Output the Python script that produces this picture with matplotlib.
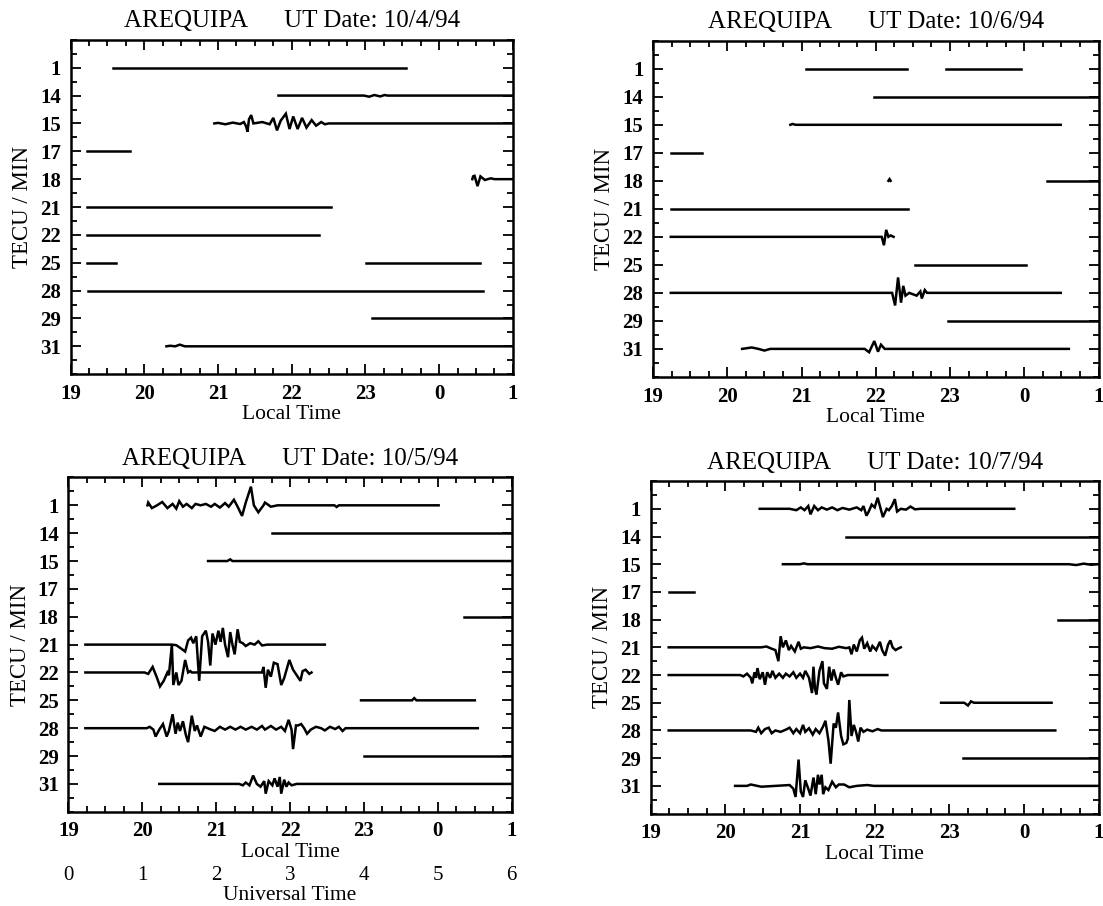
import matplotlib
matplotlib.use('Agg')
import matplotlib.pyplot as plt
from matplotlib.ticker import MultipleLocator

plt.rcParams['font.family'] = ['Liberation Serif', 'DejaVu Serif']

prn_labels = ['1', '14', '15', '17', '18', '21', '22', '25', '28', '29', '31']
hour_ticks = [19, 20, 21, 22, 23, 24, 25]
hour_labels = ['19', '20', '21', '22', '23', '0', '1']
ut_ticks = [0, 1, 2, 3, 4, 5, 6]
ut_labels = ['0', '1', '2', '3', '4', '5', '6']

# each trace: (prn, start hour, end hour, [(hour, offset in rows), ...])
oct4 = [
    ('1', 19.57, 23.55, []),
    ('14', 21.82, 25.0, [(22.98, 0.0), (23.05, -0.04), (23.12, 0.02), (23.2, -0.03), (23.26, 0.02), (23.3, 0.0)]),
    ('15', 20.95, 25.0, [(21.0, 0.02), (21.1, -0.03), (21.2, 0.03), (21.3, -0.02), (21.35, 0.05), (21.38, -0.1),
                         (21.4, -0.3), (21.42, 0.15), (21.45, 0.3), (21.48, 0.0), (21.6, 0.05), (21.7, -0.03),
                         (21.75, 0.2), (21.8, -0.25), (21.85, 0.1), (21.92, 0.35), (21.97, -0.2), (22.02, 0.25),
                         (22.08, -0.2), (22.14, 0.2), (22.2, -0.15), (22.27, 0.12), (22.33, -0.08), (22.4, 0.05),
                         (22.45, -0.03), (22.5, 0.0)]),
    ('17', 19.22, 19.81, []),
    ('18', 24.45, 25.0, [(24.46, 0.1), (24.48, 0.12), (24.52, -0.25), (24.56, 0.1), (24.62, -0.03), (24.7, 0.03), (24.75, 0.0)]),
    ('21', 19.22, 22.53, []),
    ('22', 19.22, 22.37, []),
    ('25', 19.22, 19.61, []),
    ('25', 23.01, 24.56, []),
    ('28', 19.23, 24.6, []),
    ('29', 23.09, 25.0, []),
    ('31', 20.3, 25.0, [(20.35, 0.02), (20.42, 0.0), (20.48, 0.06), (20.55, 0.0)]),
]

oct6 = [
    ('1', 21.06, 22.42, []),
    ('1', 22.94, 23.96, []),
    ('14', 21.98, 25.0, []),
    ('15', 20.85, 24.49, [(20.88, 0.03), (20.92, 0.0)]),
    ('17', 19.24, 19.66, []),
    ('18', 22.17, 22.2, [(22.185, 0.06)]),
    ('18', 24.31, 25.0, []),
    ('21', 19.24, 22.43, []),
    ('22', 19.24, 22.24, [(22.08, 0.0), (22.11, -0.3), (22.14, 0.25), (22.17, 0.0), (22.2, 0.05)]),
    ('25', 22.53, 24.02, []),
    ('28', 19.24, 24.49, [(22.22, 0.0), (22.26, -0.45), (22.3, 0.55), (22.34, -0.35), (22.37, 0.25), (22.4, -0.1),
                          (22.45, 0.0), (22.55, -0.1), (22.6, 0.05), (22.62, -0.2), (22.66, 0.1), (22.69, 0.0)]),
    ('29', 22.97, 25.0, []),
    ('31', 20.2, 24.6, [(20.33, 0.05), (20.42, 0.0), (20.5, -0.06), (20.58, 0.0), (21.85, 0.0), (21.91, -0.12),
                        (21.98, 0.28), (22.03, -0.1), (22.07, 0.15), (22.12, 0.0)]),
]

oct5 = [
    ('1', 20.07, 24.01, [(20.08, 0.1), (20.13, -0.1), (20.2, 0.0), (20.27, 0.12), (20.34, -0.1), (20.41, 0.05),
                         (20.46, -0.12), (20.5, 0.15), (20.55, -0.05), (20.6, 0.05), (20.67, -0.1), (20.72, 0.05),
                         (20.79, 0.0), (20.86, 0.05), (20.93, -0.05), (20.98, 0.05), (21.05, -0.08), (21.12, 0.08),
                         (21.17, -0.05), (21.24, 0.2), (21.29, -0.05), (21.35, -0.38), (21.4, 0.1), (21.47, 0.67),
                         (21.51, 0.0), (21.57, -0.25), (21.64, 0.0), (21.66, 0.1), (21.74, -0.05), (21.83, 0.0),
                         (22.6, 0.0), (22.63, -0.06), (22.66, 0.0)]),
    ('14', 21.76, 25.0, []),
    ('15', 20.89, 25.0, [(21.15, 0.0), (21.19, 0.06), (21.22, 0.0)]),
    ('18', 24.35, 25.0, []),
    ('21', 19.23, 22.47, [(20.4, 0.0), (20.46, -0.02), (20.53, -0.15), (20.58, -0.25), (20.62, 0.15), (20.66, 0.25),
                          (20.69, 0.05), (20.73, 0.3), (20.77, -1.3), (20.81, 0.3), (20.86, 0.5), (20.89, 0.1),
                          (20.92, -0.75), (20.95, 0.4), (20.99, 0.0), (21.03, 0.5), (21.06, 0.1), (21.09, 0.6),
                          (21.12, 0.0), (21.16, -0.45), (21.19, 0.45), (21.22, 0.0), (21.25, -0.35), (21.29, 0.55),
                          (21.32, 0.1), (21.36, 0.05), (21.4, -0.05), (21.46, 0.05), (21.52, 0.0), (21.57, 0.12),
                          (21.62, -0.03), (21.69, 0.0)]),
    ('22', 19.23, 22.29, [(20.03, 0.0), (20.08, -0.05), (20.14, 0.2), (20.2, -0.2), (20.24, -0.5), (20.29, -0.3),
                          (20.34, 0.0), (20.36, -0.1), (20.4, 1.0), (20.42, -0.45), (20.46, 0.0), (20.49, -0.45),
                          (20.53, -0.3), (20.58, 0.45), (20.62, 0.0), (20.65, 0.05), (20.67, 0.0), (21.62, 0.0),
                          (21.64, 0.2), (21.67, -0.55), (21.7, 0.1), (21.74, -0.15), (21.78, 0.35), (21.83, 0.3),
                          (21.88, -0.45), (21.92, -0.2), (21.99, 0.45), (22.04, 0.1), (22.09, -0.1), (22.14, -0.3),
                          (22.17, 0.05), (22.21, 0.1), (22.26, -0.05)]),
    ('25', 22.96, 24.5, [(23.65, 0.0), (23.68, 0.08), (23.71, 0.0)]),
    ('28', 19.23, 24.54, [(20.06, 0.0), (20.1, 0.05), (20.15, -0.05), (20.18, -0.3), (20.23, -0.05), (20.28, 0.15),
                          (20.33, -0.3), (20.36, -0.1), (20.41, 0.5), (20.45, -0.2), (20.48, 0.2), (20.51, -0.1),
                          (20.55, 0.25), (20.59, -0.25), (20.62, -0.5), (20.67, 0.45), (20.71, -0.1), (20.74, 0.1),
                          (20.79, -0.3), (20.84, 0.05), (20.91, -0.03), (20.98, -0.1), (21.05, 0.05), (21.12, -0.05),
                          (21.19, 0.05), (21.26, -0.05), (21.33, 0.05), (21.4, -0.05), (21.48, 0.05), (21.55, -0.05),
                          (21.62, 0.08), (21.66, -0.05), (21.74, 0.08), (21.81, -0.05), (21.88, 0.05), (21.93, -0.1),
                          (21.98, 0.3), (22.02, -0.05), (22.04, -0.75), (22.08, 0.1), (22.11, 0.1), (22.15, 0.15),
                          (22.19, 0.0), (22.23, -0.2), (22.28, -0.05), (22.35, 0.05), (22.42, 0.0), (22.47, -0.08),
                          (22.54, 0.05), (22.61, -0.03), (22.66, 0.05), (22.71, -0.1), (22.75, 0.0)]),
    ('29', 23.0, 25.0, []),
    ('31', 20.23, 25.0, [(21.31, 0.0), (21.36, -0.05), (21.4, 0.05), (21.45, -0.05), (21.5, 0.3), (21.55, 0.0),
                         (21.6, -0.1), (21.65, 0.1), (21.67, -0.35), (21.71, 0.1), (21.76, -0.05), (21.79, 0.2),
                         (21.83, -0.1), (21.86, 0.25), (21.88, -0.35), (21.92, 0.15), (21.95, -0.1), (21.98, 0.05),
                         (22.02, -0.05), (22.09, 0.0)]),
]

oct7 = [
    ('1', 20.46, 23.87, [(20.86, 0.0), (20.95, -0.05), (21.01, 0.05), (21.06, -0.05), (21.11, 0.1), (21.14, -0.2),
                         (21.19, 0.1), (21.24, -0.05), (21.29, 0.05), (21.36, -0.03), (21.43, 0.05), (21.5, -0.05),
                         (21.57, 0.03), (21.66, -0.03), (21.76, 0.05), (21.82, -0.05), (21.85, 0.1), (21.89, -0.25),
                         (21.92, -0.1), (21.96, 0.15), (22.0, 0.05), (22.04, 0.4), (22.08, 0.0), (22.11, -0.3),
                         (22.16, 0.0), (22.19, -0.05), (22.23, 0.1), (22.27, 0.35), (22.3, -0.1), (22.35, 0.0),
                         (22.42, -0.03), (22.48, 0.08), (22.54, -0.02), (22.61, 0.0)]),
    ('14', 21.62, 25.0, []),
    ('15', 20.77, 25.0, [(21.0, 0.0), (21.05, 0.03), (21.1, 0.0), (24.6, 0.0), (24.7, -0.03), (24.8, 0.02), (24.9, -0.02)]),
    ('17', 19.24, 19.58, []),
    ('18', 24.46, 25.0, []),
    ('21', 19.24, 22.35, [(20.48, 0.0), (20.55, 0.03), (20.62, -0.05), (20.67, -0.1), (20.71, -0.5), (20.74, 0.4),
                          (20.77, 0.0), (20.81, 0.25), (20.85, -0.1), (20.88, 0.05), (20.93, -0.15), (20.98, 0.2),
                          (21.01, -0.05), (21.05, 0.0), (21.14, -0.03), (21.24, 0.03), (21.33, -0.03), (21.43, -0.05),
                          (21.52, 0.02), (21.62, -0.03), (21.66, 0.0), (21.69, -0.25), (21.72, 0.1), (21.76, -0.15),
                          (21.8, 0.25), (21.83, 0.35), (21.86, -0.05), (21.9, 0.15), (21.94, -0.15), (21.97, 0.05),
                          (22.02, -0.1), (22.07, 0.2), (22.1, -0.1), (22.14, -0.3), (22.18, 0.1), (22.21, 0.25),
                          (22.24, 0.0), (22.28, -0.1), (22.31, -0.05)]),
    ('22', 19.24, 22.17, [(20.2, 0.0), (20.24, -0.05), (20.29, 0.05), (20.34, -0.1), (20.36, -0.3), (20.39, 0.1),
                          (20.41, -0.1), (20.43, 0.25), (20.46, -0.15), (20.5, 0.1), (20.53, -0.35), (20.56, 0.1),
                          (20.6, -0.1), (20.63, 0.15), (20.67, -0.1), (20.72, 0.05), (20.77, -0.1), (20.81, 0.05),
                          (20.86, -0.05), (20.91, 0.1), (20.95, -0.1), (21.0, 0.05), (21.04, -0.1), (21.07, 0.15),
                          (21.12, -0.1), (21.16, -0.65), (21.18, 0.3), (21.2, -0.5), (21.22, -0.7), (21.26, 0.15),
                          (21.3, 0.5), (21.32, -0.3), (21.36, -0.5), (21.39, 0.3), (21.42, -0.2), (21.45, 0.2),
                          (21.48, -0.1), (21.51, -0.35), (21.55, 0.1), (21.58, -0.05), (21.64, 0.0)]),
    ('25', 22.89, 24.37, [(23.2, 0.0), (23.25, -0.1), (23.29, 0.05), (23.33, 0.0)]),
    ('28', 19.24, 24.42, [(20.34, 0.0), (20.41, -0.05), (20.44, 0.1), (20.48, -0.1), (20.53, 0.05), (20.58, 0.1),
                          (20.62, -0.1), (20.67, 0.0), (20.74, -0.05), (20.81, 0.03), (20.86, 0.1), (20.91, -0.1),
                          (20.95, 0.05), (21.0, -0.1), (21.04, 0.2), (21.07, -0.05), (21.12, 0.08), (21.17, -0.15),
                          (21.21, 0.05), (21.26, -0.1), (21.31, 0.15), (21.34, 0.35), (21.38, -0.35), (21.41, -1.2),
                          (21.45, 0.25), (21.48, 0.1), (21.51, 0.65), (21.55, -0.2), (21.58, -0.5), (21.62, -0.45),
                          (21.64, -0.3), (21.66, 1.1), (21.69, -0.2), (21.72, 0.2), (21.75, -0.05), (21.78, -0.4),
                          (21.81, 0.1), (21.85, -0.05), (21.9, 0.03), (21.97, -0.03), (22.04, 0.05), (22.09, 0.0)]),
    ('29', 23.18, 25.0, []),
    ('31', 20.13, 25.0, [(20.29, 0.0), (20.34, 0.05), (20.48, -0.03), (20.67, 0.0), (20.86, 0.03), (20.91, -0.1),
                         (20.94, -0.4), (20.98, 0.95), (21.01, -0.2), (21.04, -0.4), (21.07, 0.2), (21.11, -0.1),
                         (21.14, -0.35), (21.18, 0.3), (21.21, -0.3), (21.24, 0.4), (21.26, 0.05), (21.29, 0.4),
                         (21.31, -0.3), (21.34, -0.05), (21.38, -0.15), (21.43, 0.15), (21.48, -0.05), (21.52, 0.05),
                         (21.59, 0.05), (21.66, -0.05), (21.76, 0.0), (21.9, 0.03), (21.99, 0.0)]),
]

panels = [
    ('10/4/94', oct4, [0.064, 0.587, 0.401, 0.369]),
    ('10/6/94', oct6, [0.592, 0.584, 0.404, 0.371]),
    ('10/5/94', oct5, [0.062, 0.104, 0.402, 0.369]),
    ('10/7/94', oct7, [0.590, 0.102, 0.406, 0.367]),
]

fig = plt.figure(figsize=(11.03, 9.06), dpi=100)

n = len(prn_labels)
for date, traces, rect in panels:
    ax = fig.add_axes(rect)
    for prn, t0, t1, knots in traces:
        row = n - 1 - prn_labels.index(prn)
        ts = [t0] + [k[0] for k in knots] + [t1]
        ys = [row] + [row + k[1] for k in knots] + [row]
        ax.plot(ts, ys, color='black', lw=1.8, solid_joinstyle='miter')
    ax.set_xlim(19, 25)
    ax.set_ylim(-1, n)
    ax.set_xticks(hour_ticks)
    ax.set_xticklabels(hour_labels)
    ax.set_yticks(range(n))
    ax.set_yticklabels(prn_labels[::-1])
    ax.xaxis.set_minor_locator(MultipleLocator(0.25))
    ax.yaxis.set_minor_locator(MultipleLocator(0.5))
    ax.tick_params(which='both', direction='in', top=True, right=True, width=1.3)
    ax.tick_params(which='major', length=7, labelsize=15, pad=7)
    ax.tick_params(which='minor', length=4)
    for lab in ax.get_xticklabels() + ax.get_yticklabels():
        lab.set_fontweight('bold')
    for sp in ax.spines.values():
        sp.set_linewidth(1.8)
    ax.set_title('AREQUIPA      UT Date: ' + date, fontsize=18, pad=9)
    ax.set_xlabel('Local Time', fontsize=15.5, labelpad=1)
    ax.set_ylabel('TECU / MIN', fontsize=16.5, labelpad=5)
    if date == '10/5/94':
        sec = ax.secondary_xaxis(-0.15, functions=(lambda x: x - 19, lambda x: x + 19))
        sec.set_xticks(ut_ticks)
        sec.set_xticklabels(ut_labels)
        sec.spines['bottom'].set_visible(False)
        sec.tick_params(length=0, labelsize=15, pad=3)
        sec.set_xlabel('Universal Time', fontsize=15.5, labelpad=1)

fig.savefig('out.png', dpi=100)
